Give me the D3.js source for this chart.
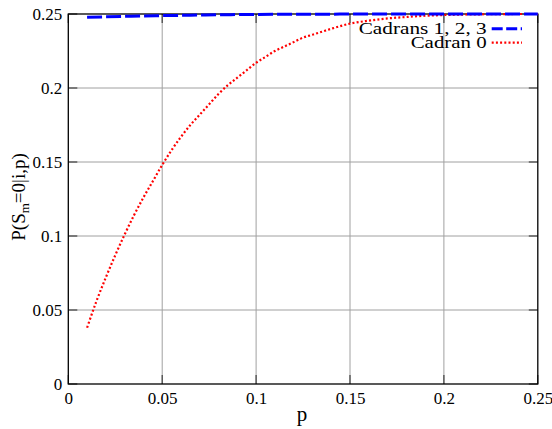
<!DOCTYPE html>
<html><head><meta charset="utf-8">
<script src="https://cdn.jsdelivr.net/npm/d3@7"></script>
<style>body{margin:0;background:#fff;} svg{display:block;}</style>
</head><body><div id="chart"></div>
<script>
const xTicks = [0, 0.05, 0.1, 0.15, 0.2, 0.25];
const yTicks = [0, 0.05, 0.1, 0.15, 0.2, 0.25];
const xTickLabels = ["0", "0.05", "0.1", "0.15", "0.2", "0.25"];
const yTickLabels = ["0", "0.05", "0.1", "0.15", "0.2", "0.25"];
const seriesNames = ["Cadrans 1, 2, 3", "Cadran 0"];
const pBlue = [0.01, 0.02, 0.03, 0.04, 0.05, 0.06, 0.07, 0.08, 0.09, 0.10, 0.12, 0.14, 0.16, 0.18, 0.20, 0.22, 0.25];
const vBlue = [0.2478, 0.2481, 0.2484, 0.2487, 0.2489, 0.2491, 0.2493, 0.2495, 0.2496, 0.2497, 0.2498, 0.2499, 0.25, 0.25, 0.25, 0.25, 0.25];
const pRed = [0.01, 0.015, 0.02, 0.025, 0.03, 0.035, 0.04, 0.045, 0.05, 0.055, 0.06, 0.065, 0.07, 0.075, 0.08, 0.085, 0.09, 0.095, 0.10, 0.105, 0.11, 0.115, 0.12, 0.125, 0.13, 0.135, 0.14, 0.15, 0.16, 0.17, 0.18, 0.19, 0.20, 0.21, 0.22, 0.23, 0.24, 0.25];
const vRed = [0.038, 0.056, 0.072, 0.087, 0.101, 0.114, 0.126, 0.137, 0.148, 0.158, 0.167, 0.175, 0.182, 0.189, 0.196, 0.202, 0.207, 0.212, 0.217, 0.221, 0.225, 0.228, 0.231, 0.234, 0.236, 0.238, 0.240, 0.2435, 0.2455, 0.247, 0.248, 0.2488, 0.2493, 0.2496, 0.2498, 0.2499, 0.25, 0.25];

const FONT = "Liberation Serif";
const W = 552, H = 429;
const L = 68.3, R = 537.8, T = 14, B = 384;
const svg = d3.select("#chart").append("svg").attr("width", W).attr("height", H)
  .attr("font-family", FONT);
const x = d3.scaleLinear().domain([0, 0.25]).range([L, R]);
const y = d3.scaleLinear().domain([0, 0.25]).range([B, T]);

// grid
const g = svg.append("g");
g.selectAll(".gx").data(xTicks.slice(1, -1)).enter().append("line")
  .attr("x1", d => x(d)).attr("x2", d => x(d)).attr("y1", T).attr("y2", B)
  .attr("stroke", "#a0a0a0").attr("stroke-width", 1);
g.selectAll(".gy").data(yTicks.slice(1, -1)).enter().append("line")
  .attr("x1", L).attr("x2", R).attr("y1", d => y(d)).attr("y2", d => y(d))
  .attr("stroke", "#a0a0a0").attr("stroke-width", 1);

// ticks (inward, all four sides)
const tl = 9;
const tk = svg.append("g").attr("stroke", "#404040").attr("stroke-width", 1.2);
xTicks.forEach(d => {
  tk.append("line").attr("x1", x(d)).attr("x2", x(d)).attr("y1", B).attr("y2", B - tl);
  tk.append("line").attr("x1", x(d)).attr("x2", x(d)).attr("y1", T).attr("y2", T + tl);
});
yTicks.forEach(d => {
  tk.append("line").attr("x1", L).attr("x2", L + tl).attr("y1", y(d)).attr("y2", y(d));
  tk.append("line").attr("x1", R).attr("x2", R - tl).attr("y1", y(d)).attr("y2", y(d));
});

// axes labels via d3 axes (no domain / tick lines)
const xAxis = d3.axisBottom(x).tickValues(xTicks).tickFormat((d, i) => xTickLabels[i]).tickSize(0).tickPadding(8);
const xa = svg.append("g").attr("transform", `translate(0,${B})`).call(xAxis);
xa.attr("font-family", FONT).attr("font-size", 17);
xa.select(".domain").remove();
xa.selectAll("text").attr("font-family", FONT).attr("font-size", 17).attr("dy", "0.71em");
const yAxis = d3.axisLeft(y).tickValues(yTicks).tickFormat((d, i) => yTickLabels[i]).tickSize(0).tickPadding(6);
const ya = svg.append("g").attr("transform", `translate(${L},0)`).call(yAxis);
ya.attr("font-family", FONT).attr("font-size", 17);
ya.select(".domain").remove();
ya.selectAll("text").attr("font-family", FONT).attr("font-size", 17);

// border
svg.append("rect").attr("x", L).attr("y", T).attr("width", R - L).attr("height", B - T)
  .attr("fill", "none").attr("stroke", "#000").attr("stroke-width", 1.3);

// lines
const line = d3.line().x(d => x(d[0])).y(d => y(d[1])).curve(d3.curveMonotoneX);
const redData = pRed.map((p, i) => [p, vRed[i]]);
const blueData = pBlue.map((p, i) => [p, vBlue[i]]);
svg.append("path").datum(redData).attr("d", line).attr("fill", "none")
  .attr("stroke", "#ff0000").attr("stroke-width", 2.2).attr("stroke-dasharray", "2,2.2");
svg.append("path").datum(blueData).attr("d", line).attr("fill", "none")
  .attr("stroke", "#0000ff").attr("stroke-width", 3).attr("stroke-dasharray", "15,4");

// legend
const lg = svg.append("g");
const legY = [28.7, 42.7];
const legWidths = [128, 76];
const legStyle = [{c: "#0000ff", w: 3, da: "11,3.5"}, {c: "#ff0000", w: 2.2, da: "2,2.2"}];
seriesNames.forEach((n, i) => {
  lg.append("text").attr("x", 486.7).attr("y", legY[i] + 5).attr("text-anchor", "end")
    .attr("font-family", FONT).attr("font-size", 17.5)
    .attr("textLength", legWidths[i]).attr("lengthAdjust", "spacingAndGlyphs").text(n);
  lg.append("line").attr("x1", 491.7).attr("x2", 522).attr("y1", legY[i]).attr("y2", legY[i])
    .attr("stroke", legStyle[i].c).attr("stroke-width", legStyle[i].w).attr("stroke-dasharray", legStyle[i].da);
});

// axis titles
svg.append("text").attr("x", 302).attr("y", 421).attr("text-anchor", "middle")
  .attr("font-family", FONT).attr("font-size", 21).text("p");
const yt = svg.append("text").attr("transform", `translate(25,197) rotate(-90)`)
  .attr("text-anchor", "middle").attr("font-family", FONT).attr("font-size", 19);
yt.append("tspan").text("P(S");
yt.append("tspan").attr("font-size", 13).attr("dy", 4).text("m");
yt.append("tspan").attr("dy", -4).text("=0|i,p)");
</script></body></html>
